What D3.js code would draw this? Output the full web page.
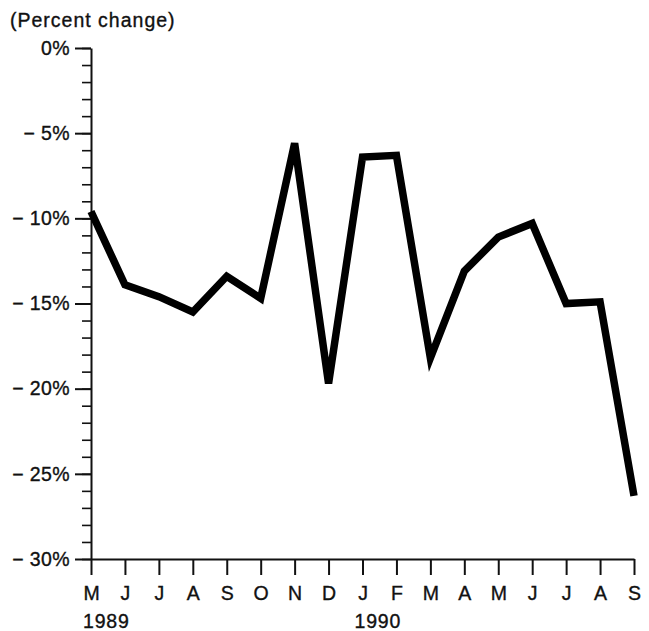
<!DOCTYPE html>
<html>
<head>
<meta charset="utf-8">
<script src="https://cdn.jsdelivr.net/npm/d3@7"></script>
<style>
  body { margin: 0; background: #fff; }
  svg { display: block; }
  text { font-family: "Liberation Sans", Arial, Helvetica, sans-serif; fill: #111; stroke: #111; stroke-width: 0.35px; }
</style>
</head>
<body>
<svg id="chart" width="649" height="631"></svg>
<script>
// Months from May 1989 to September 1990
const months = ["M", "J", "J", "A", "S", "O", "N", "D", "J", "F", "M", "A", "M", "J", "J", "A", "S"];
const years = [{ label: "1989", index: 0 }, { label: "1990", index: 8 }];
// Percent change
const values = [-9.6, -13.9, -14.6, -15.5, -13.4, -14.7, -5.6, -19.7, -6.4, -6.3, -18.2, -13.1, -11.1, -10.3, -15.0, -14.9, -26.3];
const majorTicks = [0, -5, -10, -15, -20, -25, -30];
const minorTicks = d3.range(0, -31, -1);

const svg = d3.select("#chart");

const x = d3.scaleLinear()
  .domain([0, months.length - 1])
  .range([91, 634]);

const y = d3.scaleLinear()
  .domain([-30, 0])
  .range([559, 48]);

const fontSize = "19.5px";

// y axis: minor ticks first, then major ticks with labels
svg.append("g")
  .attr("transform", "translate(91,0)")
  .call(d3.axisLeft(y).tickValues(minorTicks).tickSize(9).tickSizeOuter(0).tickFormat(""))
  .call(g => g.selectAll("line").attr("stroke", "#111").attr("stroke-width", 1.6))
  .call(g => g.select(".domain").attr("stroke", "#111").attr("stroke-width", 2));

svg.append("g")
  .attr("transform", "translate(91,0)")
  .call(d3.axisLeft(y).tickValues(majorTicks).tickSize(16).tickSizeOuter(0).tickPadding(5)
    .tickFormat(d => d === 0 ? "0%" : "\u2212 " + Math.abs(d) + "%"))
  .call(g => g.select(".domain").remove())
  .call(g => g.selectAll("line").attr("stroke", "#111").attr("stroke-width", 2))
  .call(g => g.selectAll("text")
    .attr("fill", "#111")
    .style("font-size", fontSize)
    .style("letter-spacing", "0.4px")
    .attr("font-family", null));

// x axis
svg.append("g")
  .attr("transform", "translate(0,559)")
  .call(d3.axisBottom(x).tickValues(d3.range(months.length)).tickSize(16).tickSizeOuter(0)
    .tickFormat(i => months[i]))
  .call(g => g.select(".domain").attr("stroke", "#111").attr("stroke-width", 2))
  .call(g => g.selectAll("line").attr("stroke", "#111").attr("stroke-width", 2))
  .call(g => g.selectAll("text")
    .attr("y", 41)
    .attr("dy", null)
    .attr("fill", "#111")
    .style("font-size", fontSize)
    .attr("font-family", null));

// year labels under the first month of each year
svg.append("g")
  .selectAll("text")
  .data(years)
  .enter()
  .append("text")
  .attr("x", d => x(d.index) - 8)
  .attr("y", 628)
  .style("font-size", fontSize)
  .style("letter-spacing", "0.8px")
  .text(d => d.label);

// axis title
svg.append("text")
  .attr("x", 10)
  .attr("y", 27)
  .style("font-size", fontSize)
  .style("letter-spacing", "1px")
  .text("(Percent change)");

// the series line
const line = d3.line()
  .x((d, i) => x(i))
  .y(d => y(d));

svg.append("path")
  .datum(values)
  .attr("fill", "none")
  .attr("stroke", "#000")
  .attr("stroke-width", 7.5)
  .attr("stroke-linejoin", "miter")
  .attr("stroke-miterlimit", 4)
  .attr("d", line);
</script>
</body>
</html>
